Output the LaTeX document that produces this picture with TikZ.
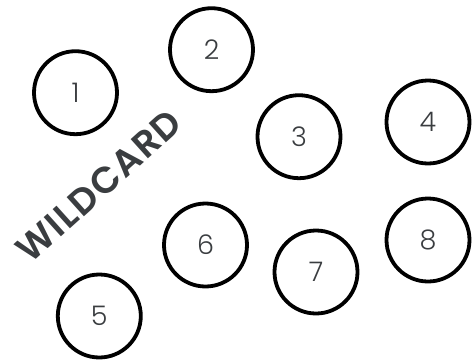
\documentclass[tikz,border=0pt]{standalone}
\usepackage{fontspec}
\setmainfont{Poppins}
\newfontfamily\numfont{Poppins}[UprightFont=* Light]
\newfontfamily\titlefont{Poppins}[UprightFont=* SemiBold,LetterSpace=4]
\usetikzlibrary{positioning}
\definecolor{ink}{HTML}{000000}
\definecolor{slate}{HTML}{3A3D40}
\tikzset{
  seat/.style={circle,draw=ink,line width=3.8pt,minimum size=83pt,
               inner sep=0pt,font=\numfont\fontsize{27}{27}\selectfont,
               text=slate},
  wild/.style={font=\titlefont\fontsize{37}{37}\selectfont,text=slate,
               rotate=42,inner sep=0pt}
}
\begin{document}
\begin{tikzpicture}[x=1pt,y=1pt]
  \path[use as bounding box] (0,0) rectangle (472,-362);
  \node[seat] (s1) at (75.5,-92.7) {1};
  \node[seat] (s2) at (211.5,-49.7) {2};
  \node[seat] (s3) at (299,-136.7) {3};
  \node[seat] (s4) at (428,-122) {4};
  \node[seat] (s5) at (99.3,-316) {5};
  \node[seat] (s6) at (205.5,-245) {6};
  \node[seat] (s7) at (316,-272) {7};
  \node[seat] (s8) at (428,-240) {8};
  \node[wild] (wildcard) at (99,-186) {WILDCARD};
\end{tikzpicture}
\end{document}
